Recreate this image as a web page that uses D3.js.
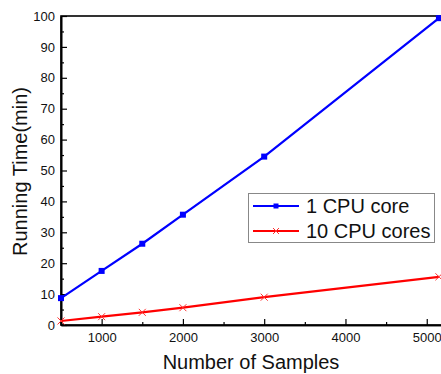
<!DOCTYPE html>
<html>
<head>
<meta charset="utf-8">
<script src="https://cdn.jsdelivr.net/npm/d3@7"></script>
<style>
  html, body { margin: 0; padding: 0; background: #fff; }
  svg { display: block; font-family: "Liberation Sans", Arial, sans-serif; }
</style>
</head>
<body>
<svg id="chart" width="441" height="374"></svg>
<script>
// values
const samples = [500, 1000, 1500, 2000, 3000, 5150];
const oneCore = [8.7, 17.5, 26.3, 35.7, 54.5, 99.3];
const tenCores = [1.3, 2.7, 4.1, 5.6, 9.0, 15.6];
const seriesNames = ['1 CPU core', '10 CPU cores'];
const xMajorTicks = [1000, 2000, 3000, 4000, 5000];
const xMinorTicks = [500, 1500, 2500, 3500, 4500];
const yMajorTicks = [0, 10, 20, 30, 40, 50, 60, 70, 80, 90, 100];
const yMinorTicks = [5, 15, 25, 35, 45, 55, 65, 75, 85, 95];

const svg = d3.select('#chart');
const margins = { top: 16, right: -2, bottom: 49, left: 61 };
const width = 441;
const height = 374;

const xScale = d3.scaleLinear()
  .domain([500, 5200])
  .range([margins.left, width - margins.right]);

const yScale = d3.scaleLinear()
  .domain([0, 100])
  .range([height - margins.bottom, margins.top]);

// frame
svg.append('rect')
  .attr('x', xScale.range()[0])
  .attr('y', yScale.range()[1])
  .attr('width', xScale.range()[1] - xScale.range()[0])
  .attr('height', yScale.range()[0] - yScale.range()[1])
  .attr('fill', 'none')
  .attr('stroke', '#000')
  .attr('stroke-width', 1.6);

// x axis
const xAxis = svg.append('g')
  .attr('transform', `translate(0,${height - margins.bottom})`)
  .call(d3.axisBottom(xScale).tickValues(xMajorTicks).tickFormat(d3.format('d'))
    .tickSize(-6).tickPadding(8).tickSizeOuter(0));
xAxis.append('g')
  .call(d3.axisBottom(xScale).tickValues(xMinorTicks).tickSize(-3).tickFormat('').tickSizeOuter(0));

// y axis
const yAxis = svg.append('g')
  .attr('transform', `translate(${margins.left},0)`)
  .call(d3.axisLeft(yScale).tickValues(yMajorTicks).tickFormat(d3.format('d'))
    .tickSize(-6).tickPadding(6).tickSizeOuter(0));
yAxis.append('g')
  .call(d3.axisLeft(yScale).tickValues(yMinorTicks).tickSize(-3).tickFormat('').tickSizeOuter(0));

svg.selectAll('.domain').attr('stroke', '#000').attr('stroke-width', 1.6);
svg.selectAll('.tick line').attr('stroke', '#000').attr('stroke-width', 1.2);
svg.selectAll('.tick text')
  .attr('fill', '#111')
  .style('font-size', '13px')
  .style('font-family', '"Liberation Sans", Arial, sans-serif');

// axis titles
svg.append('text')
  .attr('x', (xScale.range()[0] + 441) / 2)
  .attr('y', 369)
  .attr('text-anchor', 'middle')
  .style('font-size', '20px')
  .attr('fill', '#111')
  .text('Number of Samples');

svg.append('text')
  .attr('transform', `translate(27,${(yScale.range()[0] + yScale.range()[1]) / 2 + 1}) rotate(-90)`)
  .attr('text-anchor', 'middle')
  .style('font-size', '20px')
  .attr('fill', '#111')
  .text('Running Time(min)');

const line = d3.line()
  .x(d => xScale(d[0]))
  .y(d => yScale(d[1]));

const blueData = samples.map((s, i) => [s, oneCore[i]]);
const redData = samples.map((s, i) => [s, tenCores[i]]);

svg.append('path')
  .datum(blueData)
  .attr('fill', 'none')
  .attr('stroke', '#0000ff')
  .attr('stroke-width', 2.2)
  .attr('d', line);

svg.append('g')
  .selectAll('rect')
  .data(blueData)
  .enter().append('rect')
  .attr('x', d => xScale(d[0]) - 3)
  .attr('y', d => yScale(d[1]) - 3)
  .attr('width', 6)
  .attr('height', 6)
  .attr('fill', '#0000ff');

svg.append('path')
  .datum(redData)
  .attr('fill', 'none')
  .attr('stroke', '#ff0000')
  .attr('stroke-width', 2.2)
  .attr('d', line);

const cross = (cx, cy, r) => `M${cx - r},${cy - r}L${cx + r},${cy + r}M${cx - r},${cy + r}L${cx + r},${cy - r}`;

svg.append('g')
  .selectAll('path')
  .data(redData)
  .enter().append('path')
  .attr('d', d => cross(xScale(d[0]), yScale(d[1]), 3.5))
  .attr('stroke', '#ff3030')
  .attr('stroke-width', 1)
  .attr('fill', 'none');

// legend
const legend = svg.append('g');
legend.append('rect')
  .attr('x', 248.5)
  .attr('y', 193.5)
  .attr('width', 186)
  .attr('height', 49)
  .attr('fill', '#fff')
  .attr('stroke', '#888')
  .attr('stroke-width', 1);

const legendRows = [
  { name: seriesNames[0], color: '#0000ff', marker: 'square', y: 206 },
  { name: seriesNames[1], color: '#ff0000', marker: 'cross', y: 231 }
];

legendRows.forEach(r => {
  legend.append('line')
    .attr('x1', 253).attr('x2', 299)
    .attr('y1', r.y).attr('y2', r.y)
    .attr('stroke', r.color)
    .attr('stroke-width', 2.2);
  if (r.marker === 'square') {
    legend.append('rect')
      .attr('x', 276 - 2.5).attr('y', r.y - 2.5)
      .attr('width', 5).attr('height', 5)
      .attr('fill', r.color);
  } else {
    legend.append('path')
      .attr('d', cross(276, r.y, 3))
      .attr('stroke', '#ff3030')
      .attr('stroke-width', 1);
  }
  legend.append('text')
    .attr('x', 306)
    .attr('y', r.y + 7)
    .style('font-size', '20px')
    .attr('fill', '#111')
    .text(r.name);
});
</script>
</body>
</html>
